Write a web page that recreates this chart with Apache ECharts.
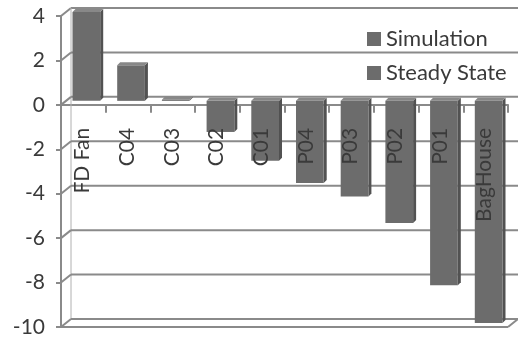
<!DOCTYPE html>
<html>
<head>
<meta charset="utf-8">
<script src="https://cdn.jsdelivr.net/npm/echarts@6/dist/echarts.min.js"></script>
<style>
  html, body { margin: 0; padding: 0; background: #fff; }
  #chart { width: 518px; height: 337px; }
</style>
</head>
<body>
<div id="chart"></div>
<script>
// Pressure-drop deviation per component
const categories = ['FD Fan', 'C04', 'C03', 'C02', 'C01', 'P04', 'P03', 'P02', 'P01', 'BagHouse'];
const simulation = [4.0, 1.6, 0.05, -1.4, -2.7, -3.7, -4.3, -5.5, -8.3, -10.0];
const steadyState = [];
const yTicks = [4, 2, 0, -2, -4, -6, -8, -10];

const FONT = 'Lato';
const LINE = '#8a8a8a';
const TEXT = '#3a3a3a';
const BAR = '#6c6c6c';
const BAR_SIDE = '#525252';
const BAR_TOP = '#888888';
// depth offset of the back wall and of the bar row (pseudo 3D)
const WALL_DX = 10, WALL_DY = -8;
const BAR_DX = 3, BAR_DY = -4, SIDE = 3;
const LABEL_GAP = 23;

const chart = echarts.init(document.getElementById('chart'), null, { renderer: 'canvas' });

function wallItem(params, api) {
  const cs = params.coordSys;
  const v = api.value(1);
  const y = api.coord([0, v])[1];
  const x0 = cs.x;
  const right = api.getWidth();
  const style = { stroke: LINE, lineWidth: 2 };
  const children = [
    { type: 'line', shape: { x1: x0, y1: y, x2: x0 + WALL_DX, y2: y + WALL_DY }, style },
    { type: 'line', shape: { x1: x0 + WALL_DX, y1: y + WALL_DY, x2: right, y2: y + WALL_DY }, style }
  ];
  if (params.dataIndex === 0) {
    const yTop = api.coord([0, yTicks[0]])[1];
    const yBot = api.coord([0, yTicks[yTicks.length - 1]])[1];
    // back edge of the left wall
    children.push({ type: 'line', shape: { x1: x0 + WALL_DX, y1: yTop + WALL_DY, x2: x0 + WALL_DX, y2: yBot + WALL_DY }, style: { stroke: '#b0b0b0', lineWidth: 1 } });
    // front edge of the floor and its right corner
    children.push({ type: 'line', shape: { x1: x0, y1: yBot, x2: x0 + cs.width, y2: yBot }, style });
    children.push({ type: 'line', shape: { x1: x0 + cs.width, y1: yBot, x2: x0 + cs.width + WALL_DX, y2: yBot + WALL_DY }, style });
  }
  return { type: 'group', children };
}

function barItem(params, api) {
  const i = api.value(0);
  const v = api.value(1);
  const base = api.coord([i, 0]);
  const end = api.coord([i, v]);
  const band = api.size([1, 0])[0];
  const w = band * 0.62;
  const cx = base[0] + BAR_DX;
  const x1 = cx - w / 2, x2 = cx + w / 2;
  const yA = Math.min(base[1], end[1]) + BAR_DY;
  const yB = Math.max(base[1], end[1]) + BAR_DY;
  return {
    type: 'group',
    children: [
      { type: 'polygon', shape: { points: [[x2, yA], [x2 + SIDE, yA - SIDE], [x2 + SIDE, yB - SIDE], [x2, yB]] }, style: { fill: BAR_SIDE } },
      { type: 'polygon', shape: { points: [[x1, yA], [x1 + SIDE, yA - SIDE], [x2 + SIDE, yA - SIDE], [x2, yA]] }, style: { fill: BAR_TOP } },
      { type: 'rect', shape: { x: x1, y: yA, width: w, height: Math.max(yB - yA, 1) }, style: { fill: BAR } }
    ]
  };
}

// category names, written vertically just under the zero line
function labelItem(params, api) {
  const i = api.value(0);
  const p = api.coord([i, 0]);
  return {
    type: 'text',
    x: p[0] - 1,
    y: p[1] + LABEL_GAP,
    rotation: Math.PI / 2,
    style: {
      text: categories[i],
      align: 'right',
      verticalAlign: 'middle',
      fontFamily: FONT,
      fontSize: 21,
      fill: TEXT
    }
  };
}

chart.setOption({
  animation: false,
  backgroundColor: '#fff',
  grid: { left: 61, right: 10, top: 16, bottom: 10, containLabel: false, outerBoundsMode: 'none' },
  legend: {
    data: ['Simulation', 'Steady State'],
    orient: 'vertical',
    left: 362,
    top: 23,
    itemWidth: 14,
    itemHeight: 14,
    itemGap: 12,
    icon: 'rect',
    textStyle: { fontFamily: FONT, fontSize: 22, color: TEXT }
  },
  xAxis: {
    type: 'category',
    data: categories,
    axisLine: { onZero: true, lineStyle: { color: LINE, width: 2 } },
    axisTick: { show: true, interval: 0, length: 8, lineStyle: { color: LINE, width: 2 } },
    axisLabel: { show: false },
    splitLine: { show: false }
  },
  yAxis: {
    type: 'value',
    min: -10,
    max: 4,
    interval: 2,
    axisLine: { show: true, lineStyle: { color: LINE, width: 2 } },
    axisTick: { show: true, length: 5, lineStyle: { color: LINE, width: 2 } },
    axisLabel: { margin: 16, fontFamily: FONT, fontSize: 21, color: TEXT },
    splitLine: { show: false }
  },
  series: [
    {
      type: 'custom',
      name: 'wall',
      silent: true,
      clip: false,
      z: 1,
      renderItem: wallItem,
      data: yTicks.map(v => [0, v])
    },
    {
      type: 'custom',
      name: 'Simulation',
      z: 3,
      clip: false,
      itemStyle: { color: BAR },
      renderItem: barItem,
      data: simulation.map((v, i) => [i, v])
    },
    {
      type: 'bar',
      name: 'Steady State',
      itemStyle: { color: BAR },
      data: steadyState
    },
    {
      type: 'custom',
      name: 'categoryLabels',
      silent: true,
      clip: false,
      z: 5,
      renderItem: labelItem,
      data: categories.map((c, i) => [i, 0])
    }
  ]
});
</script>
</body>
</html>
